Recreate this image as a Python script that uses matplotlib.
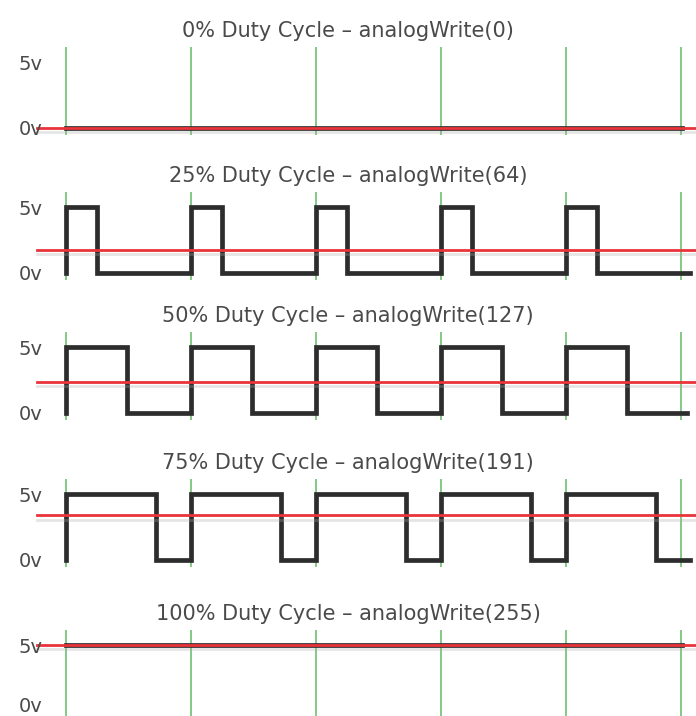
import numpy as np
import matplotlib
import matplotlib.pyplot as plt
import matplotlib.patheffects as pe

matplotlib.use('agg')

# panel data
titles = ['0% Duty Cycle \u2013 analogWrite(0)',
          '25% Duty Cycle \u2013 analogWrite(64)',
          '50% Duty Cycle \u2013 analogWrite(127)',
          '75% Duty Cycle \u2013 analogWrite(191)',
          '100% Duty Cycle \u2013 analogWrite(255)']
duty = [0.0, 0.25, 0.49, 0.72, 1.0]          # fraction of a period the signal is high
avg_volts = [0.0, 1.75, 2.35, 3.35, 5.0]      # red average line
wave_end = [4.93, 4.99, 4.97, 4.99, 4.93]     # where the black trace stops
green_x = [0, 1, 2, 3, 4, 4.92]               # period markers
level_labels = ['5v', '0v']
level_values = [5, 0]

W, H = 696, 716
px_per_volt = 13.3
zero_px = [128, 273, 413, 560, 711]  # pixel row of 0v per panel
label_lift = [0, 0, 0, 0, 0.45]      # keep the last "0v" inside the picture
ylo, yhi = -1.3, 8.0
t_left, t_right = -0.528, 5.04

fig = plt.figure(figsize=(W / 100, H / 100), dpi=100)
txt_color = '#4a4a4a'

for i in range(5):
    bottom = H - (zero_px[i] - ylo * px_per_volt)
    height = (yhi - ylo) * px_per_volt
    ax = fig.add_axes([0, bottom / H, 1, height / H])
    ax.set_xlim(t_left, t_right)
    ax.set_ylim(ylo, yhi)
    ax.axis('off')

    # green period markers
    g_bottom = -1.3 if i == 4 else -0.5
    ax.vlines(green_x, g_bottom, 6.1, color='#62bb66', lw=1.1, zorder=1)

    # black PWM trace
    d = duty[i]
    if d == 0 or d == 1:
        tx = [0, wave_end[i]]
        ty = [5 * d, 5 * d]
    else:
        tx, ty = [0], [0]
        for k in range(5):
            tx += [k, k + d, k + d]
            ty += [5, 5, 0]
            tx.append(min(k + 1, wave_end[i]))
            ty.append(0)
    ax.plot(tx, ty, color='#2d2d2d', lw=3.4, solid_joinstyle='miter', zorder=2)

    # red average line with a soft shadow
    ax.plot([-0.23, t_right], [avg_volts[i]] * 2, color='#e8343a', lw=2.0, zorder=3,
            path_effects=[pe.SimpleLineShadow(offset=(0, -3), shadow_color='#aaaaaa', alpha=0.3),
                          pe.Normal()])

    ax.text(-0.19, level_values[0] - 0.25, level_labels[0], ha='right', va='center',
            fontsize=14, color=txt_color)
    ax.text(-0.19, level_values[1] - 0.1 + label_lift[i], level_labels[1], ha='right', va='center',
            fontsize=14, color=txt_color)

    ax.text(0.5 * (t_left + t_right), 7.3, titles[i], ha='center', va='center',
            fontsize=15, color=txt_color)

fig.savefig('out.png', dpi=100)
